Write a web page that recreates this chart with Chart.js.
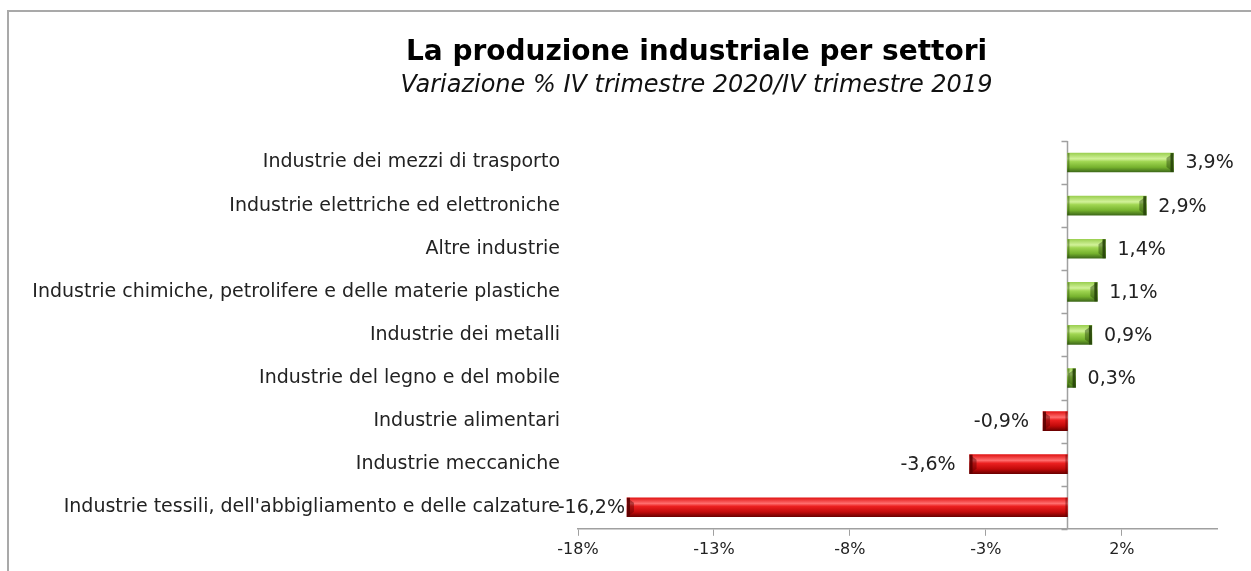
<!DOCTYPE html>
<html>
<head>
<meta charset="utf-8">
<script src="https://cdn.jsdelivr.net/npm/chart.js@4/dist/chart.umd.min.js"></script>
<style>
  html,body{margin:0;padding:0;background:#fff;overflow:hidden;}
  #wrap{position:relative;width:1251px;height:571px;}
  #frame{position:absolute;left:7px;top:10px;width:1400px;height:700px;border-top:2px solid #a9a9a9;border-left:2px solid #a9a9a9;}
  #c{position:absolute;left:0;top:0;}
</style>
</head>
<body>
<div id="wrap">
  <div id="frame"></div>
  <canvas id="c" width="1251" height="571"></canvas>
</div>
<script>
const settori = [
  "Industrie dei mezzi di trasporto",
  "Industrie elettriche ed elettroniche",
  "Altre industrie",
  "Industrie chimiche, petrolifere e delle materie plastiche",
  "Industrie dei metalli",
  "Industrie del legno e del mobile",
  "Industrie alimentari",
  "Industrie meccaniche",
  "Industrie tessili, dell'abbigliamento e delle calzature"
];
const variazioni = [3.9, 2.9, 1.4, 1.1, 0.9, 0.3, -0.9, -3.6, -16.2];
const tickValori = [-18, -13, -8, -3, 2];

const titolo = "La produzione industriale per settori";
const sottotitolo = "Variazione % IV trimestre 2020/IV trimestre 2019";

const FONT = "'DejaVu Sans', Verdana, sans-serif";
const BAR_H = 19;

function fmt(v){ return v.toFixed(1).replace(".", ",") + "%"; }

function barGradient(ctx){
  const chart = ctx.chart;
  const v = variazioni[ctx.dataIndex];
  const base = v >= 0 ? "#8cc63f" : "#d81010";
  const y = chart.scales.y;
  if(!y || ctx.dataIndex === undefined) return base;
  const cy = y.getPixelForValue(ctx.dataIndex);
  if(!isFinite(cy)) return base;
  const g = chart.ctx.createLinearGradient(0, cy - BAR_H/2, 0, cy + BAR_H/2);
  if(v >= 0){
    g.addColorStop(0, "#9cd052");
    g.addColorStop(0.3, "#d2f29a");
    g.addColorStop(0.45, "#a0d652");
    g.addColorStop(0.75, "#76b22e");
    g.addColorStop(1, "#3f6a1a");
  } else {
    g.addColorStop(0, "#e21616");
    g.addColorStop(0.3, "#ff6e6e");
    g.addColorStop(0.45, "#ec2020");
    g.addColorStop(0.75, "#c20a0a");
    g.addColorStop(1, "#6e0000");
  }
  return g;
}

// titolo e sottotitolo centrati sul riquadro del grafico (non sull'area dati)
const titoli = {
  id: "titoli",
  afterDraw(chart){
    const {ctx, chartArea} = chart;
    const cx = (chartArea.left - 402 + chartArea.right) / 2;
    ctx.save();
    ctx.textAlign = "center";
    ctx.textBaseline = "middle";
    ctx.fillStyle = "#000";
    ctx.font = "bold 28px " + FONT;
    ctx.fillText(titolo, cx, 53);
    ctx.fillStyle = "#111";
    ctx.font = "italic 24px " + FONT;
    ctx.fillText(sottotitolo, cx, 86);
    ctx.restore();
  }
};

// linea dello zero con tacche tra le categorie
const zeroLine = {
  id: "zeroLine",
  beforeDatasetsDraw(chart){
    const {ctx, chartArea, scales:{x, y}} = chart;
    const x0 = Math.round(x.getPixelForValue(0)) + 0.5;
    ctx.save();
    ctx.strokeStyle = "#a0a0a0";
    ctx.lineWidth = 1.5;
    ctx.beginPath();
    ctx.moveTo(x0, chartArea.top);
    ctx.lineTo(x0, chartArea.bottom);
    for(let i = 0; i <= settori.length; i++){
      const yy = Math.round(y.getPixelForValue(i - 0.5)) + 0.5;
      ctx.moveTo(x0 - 6, yy);
      ctx.lineTo(x0, yy);
    }
    ctx.stroke();
    ctx.restore();
  }
};

// estremità ombreggiata delle barre + etichette dei valori
const barLabels = {
  id: "barLabels",
  afterDatasetsDraw(chart){
    const {ctx, chartArea} = chart;
    const meta = chart.getDatasetMeta(0);
    ctx.save();
    meta.data.forEach((el, i) => {
      const v = variazioni[i];
      const top = el.y - BAR_H/2, h = BAR_H;
      const dark = v >= 0 ? "rgba(40,70,10,0.9)" : "rgba(90,0,0,0.85)";
      const mid = v >= 0 ? "rgba(40,70,10,0.45)" : "rgba(90,0,0,0.45)";
      const dir = v >= 0 ? -1 : 1;
      // bisello all'estremità
      ctx.fillStyle = mid;
      ctx.beginPath();
      ctx.moveTo(el.x, top);
      ctx.lineTo(el.x + dir*7, top + 5);
      ctx.lineTo(el.x + dir*7, top + h - 5);
      ctx.lineTo(el.x, top + h);
      ctx.closePath();
      ctx.fill();
      ctx.fillStyle = dark;
      ctx.fillRect(v >= 0 ? el.x - 3 : el.x, top, 3, h);
      ctx.fillStyle = mid;
      ctx.fillRect(v >= 0 ? el.base : el.base - 2, top, 2, h);

      ctx.font = "19px " + FONT;
      ctx.fillStyle = "#222";
      ctx.textBaseline = "middle";
      ctx.textAlign = "left";
      const t = fmt(v);
      const w = ctx.measureText(t).width;
      let lx;
      if(v >= 0){ lx = el.x + 12; }
      else {
        lx = el.x - 14 - w;
        if(lx < chartArea.left) lx = el.x - 2 - w;
      }
      ctx.fillText(t, lx, el.y + 1);
    });
    ctx.restore();
  }
};

new Chart(document.getElementById("c"), {
  type: "bar",
  data: {
    labels: settori,
    datasets: [{
      data: variazioni,
      backgroundColor: barGradient,
      barThickness: BAR_H,
      borderWidth: 0
    }]
  },
  options: {
    indexAxis: "y",
    responsive: false,
    animation: false,
    layout: { padding: { left: 0, right: 34, top: 141, bottom: 8 } },
    plugins: {
      legend: { display: false },
      tooltip: { enabled: false },
      title: { display: false },
      subtitle: { display: false }
    },
    scales: {
      x: {
        min: -18, max: 5.5,
        afterBuildTicks(scale){ scale.ticks = tickValori.map(v => ({ value: v })); },
        ticks: {
          color: "#222", padding: 4,
          font: { family: FONT, size: 16 },
          callback: v => v + "%"
        },
        grid: { drawOnChartArea: false, drawTicks: true, tickLength: 7, color: "#a0a0a0" },
        border: { display: true, color: "#a0a0a0", width: 1.5 }
      },
      y: {
        afterFit(scale){ scale.width = 578; },
        ticks: {
          color: "#222", padding: 10,
          font: { family: FONT, size: 19 }
        },
        grid: { display: false },
        border: { display: false }
      }
    }
  },
  plugins: [zeroLine, barLabels, titoli]
});
</script>
</body>
</html>
